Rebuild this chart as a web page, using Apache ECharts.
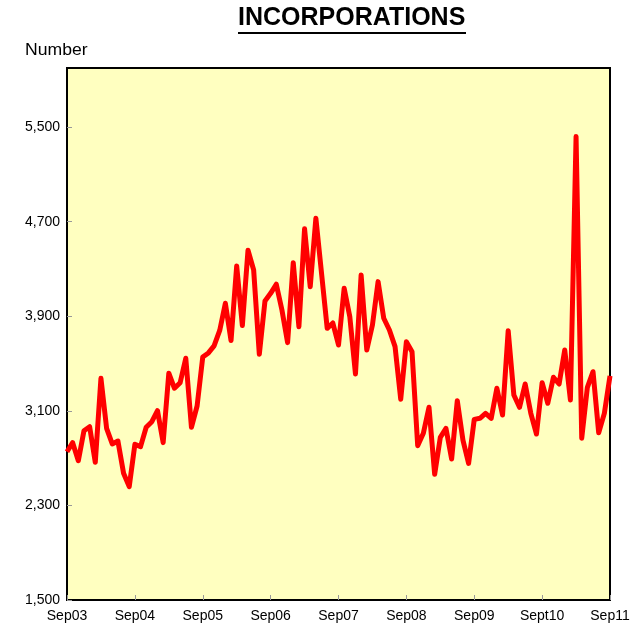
<!DOCTYPE html>
<html>
<head>
<meta charset="utf-8">
<script src="https://cdn.jsdelivr.net/npm/echarts@6/dist/echarts.min.js"></script>
<style>
html, body { margin: 0; padding: 0; background: #fff; }
#main { width: 641px; height: 629px; }
</style>
</head>
<body>
<div id="main"></div>
<script>
// monthly incorporations, Sep03 .. Sep11
var yearLabels = ['Sep03', 'Sep04', 'Sep05', 'Sep06', 'Sep07', 'Sep08', 'Sep09', 'Sept10', 'Sep11'];
var monthNames = ['Sep', 'Oct', 'Nov', 'Dec', 'Jan', 'Feb', 'Mar', 'Apr', 'May', 'Jun', 'Jul', 'Aug'];
var incorporations = [
	2754, 2831, 2678, 2932, 2966, 2665, 3375, 2952, 2820, 2845, 2572, 2459,
	2817, 2797, 2961, 3008, 3101, 2831, 3418, 3291, 3338, 3545, 2961, 3141,
	3555, 3590, 3649, 3780, 4010, 3695, 4325, 3822, 4458, 4291, 3578, 4030,
	4094, 4171, 3953, 3677, 4353, 3812, 4640, 4150, 4729, 4263, 3798, 3843,
	3657, 4137, 3896, 3412, 4249, 3615, 3826, 4193, 3883, 3784, 3643, 3198,
	3685, 3600, 2805, 2910, 3130, 2563, 2876, 2952, 2693, 3186, 2853, 2656,
	3028, 3037, 3079, 3037, 3291, 3065, 3778, 3234, 3130, 3327, 3079, 2904,
	3338, 3164, 3384, 3327, 3615, 3192, 5420, 2868, 3299, 3431, 2915, 3079,
	3395
];

var categories = [];
for (var i = 0; i < incorporations.length; i++) {
	if (i % 12 == 0) {
		categories.push(yearLabels[i / 12]);
	} else {
		categories.push(monthNames[i % 12] + i);
	}
}

var chart = echarts.init(document.getElementById('main'));
var option = {
	animation: false,
	backgroundColor: '#FFFFFF',
	graphic: [{
		type: 'text',
		x: 238,
		y: 6,
		style: {
			text: 'INCORPORATIONS',
			fontFamily: 'Liberation Sans, Arial, sans-serif',
			fontSize: 25,
			fontWeight: 'bold',
			fill: '#000'
		}
	}, {
		type: 'line',
		shape: { x1: 238, y1: 33, x2: 466, y2: 33 },
		style: { stroke: '#000', lineWidth: 2 }
	}, {
		type: 'text',
		x: 25,
		y: 43,
		scaleX: 1.1,
		style: {
			text: 'Number',
			fontFamily: 'Liberation Sans, Arial, sans-serif',
			fontSize: 16,
			fill: '#000'
		}
	}],
	grid: {
		left: 67,
		right: 31,
		top: 68,
		bottom: 29,
		show: true,
		backgroundColor: '#FFFFC0',
		borderColor: '#000',
		borderWidth: 2
	},
	xAxis: {
		type: 'category',
		data: categories,
		boundaryGap: false,
		axisLine: { show: false },
		axisTick: {
			show: true,
			inside: true,
			interval: 11,
			length: 5,
			lineStyle: { color: '#999' }
		},
		axisLabel: {
			interval: 11,
			margin: 9,
			color: '#000',
			fontSize: 14,
			fontFamily: 'Liberation Sans, Arial, sans-serif'
		},
		splitLine: { show: false }
	},
	yAxis: {
		type: 'value',
		min: 1500,
		max: 6000,
		interval: 800,
		axisLine: { show: false },
		axisTick: {
			show: true,
			inside: true,
			length: 5,
			lineStyle: { color: '#999' }
		},
		axisLabel: {
			showMaxLabel: false,
			margin: 7,
			color: '#000',
			fontSize: 14,
			fontFamily: 'Liberation Sans, Arial, sans-serif',
			formatter: function(value) {
				if (value == 6000) return '';
				return value.toString().replace(/\B(?=(\d{3})+(?!\d))/g, ',');
			}
		},
		splitLine: { show: false }
	},
	series: [{
		type: 'line',
		data: incorporations,
		showSymbol: false,
		symbol: 'none',
		lineStyle: { color: '#FF0000', width: 5, join: 'round' },
		itemStyle: { color: '#FF0000' }
	}]
};
chart.setOption(option);
</script>
</body>
</html>
